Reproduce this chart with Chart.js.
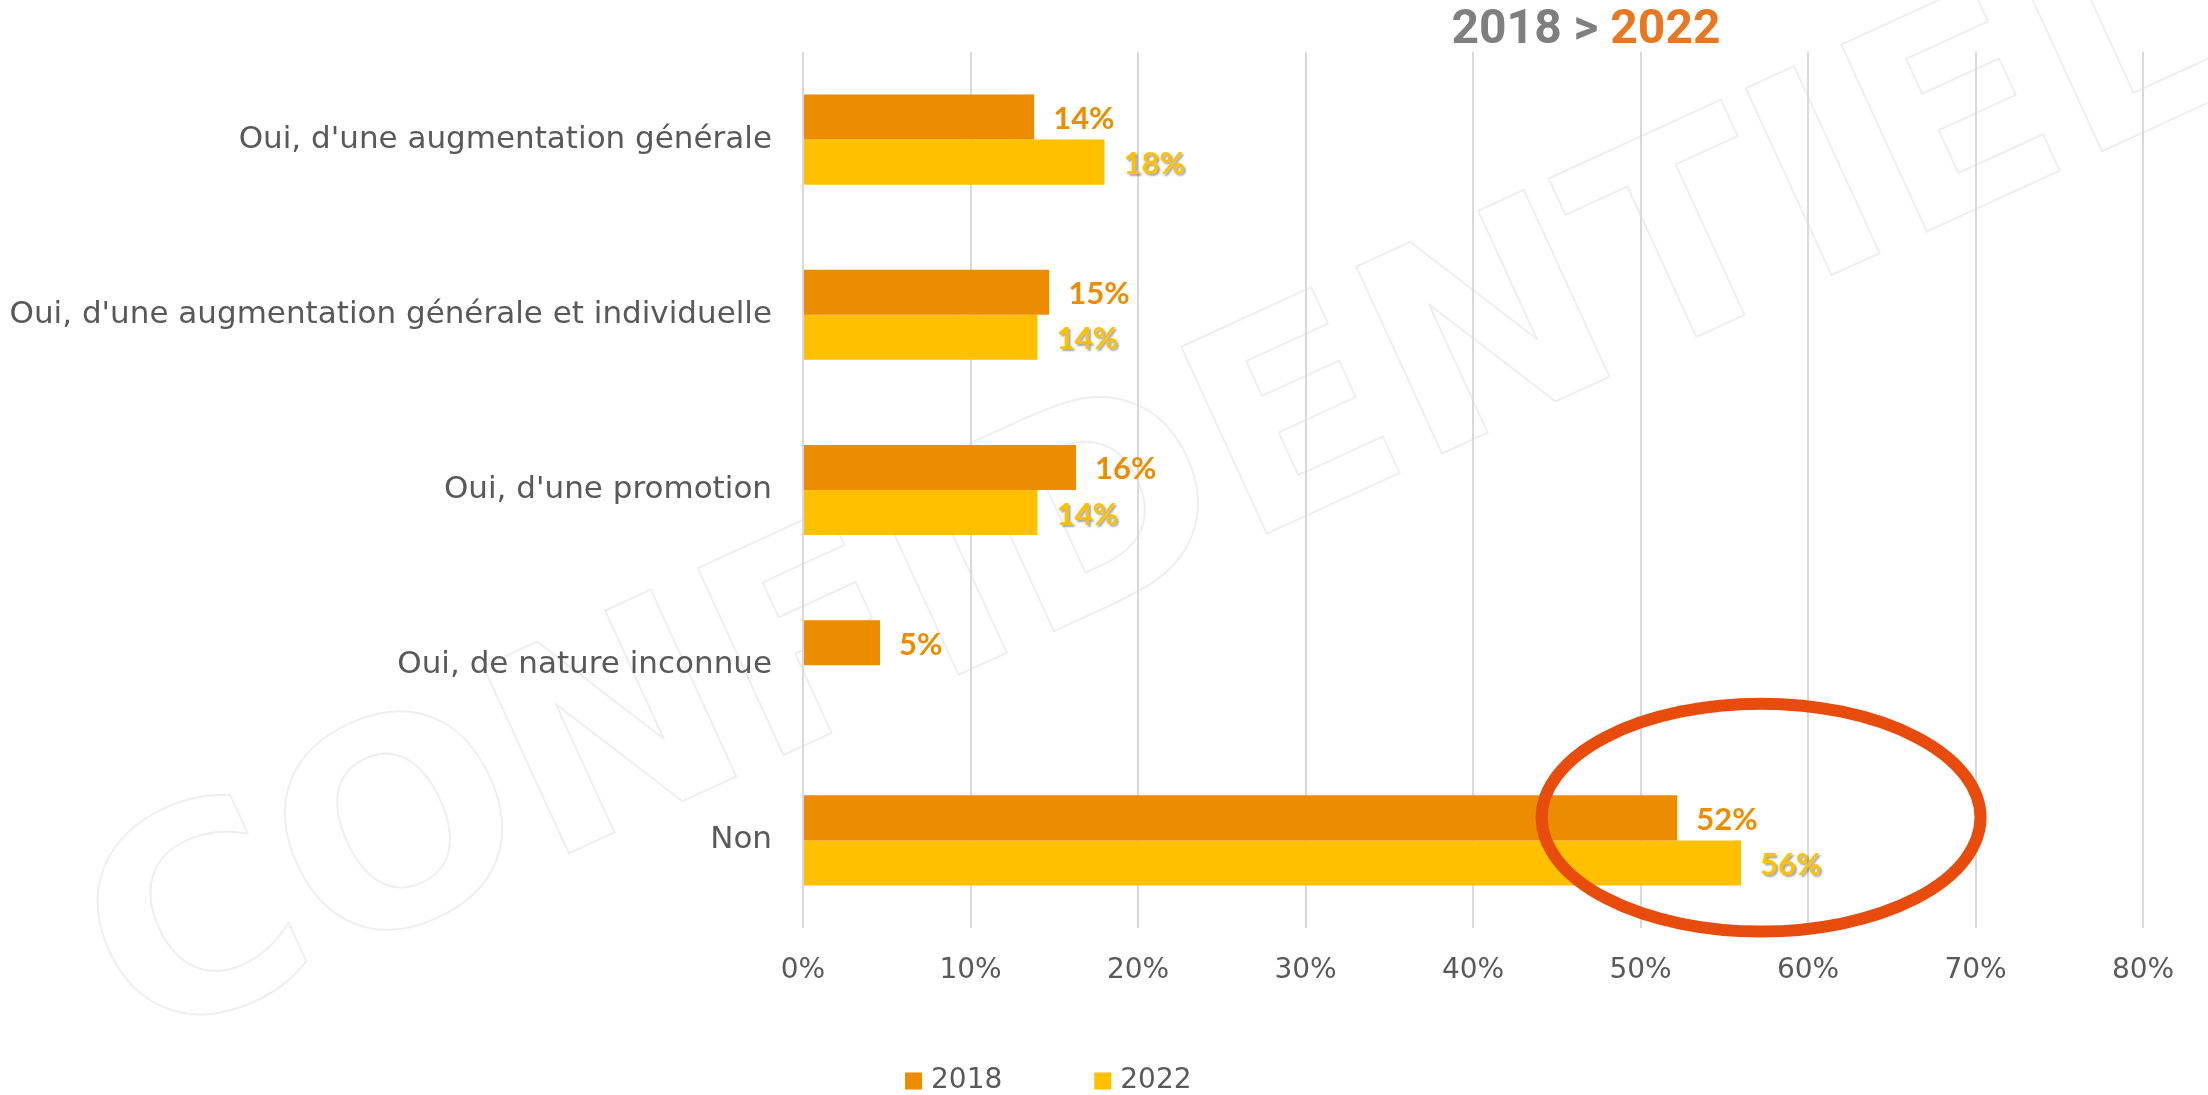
<!DOCTYPE html>
<html><head><meta charset="utf-8">
<script src="https://cdn.jsdelivr.net/npm/chart.js@4/dist/chart.umd.min.js"></script>
<style>html,body{margin:0;padding:0;background:#fff;}</style>
</head><body>
<canvas id="c" width="2208" height="1095" style="width:2208px;height:1095px;display:block"></canvas>
<script>
// ---- data ----
const categories = [
  "Oui, d'une augmentation générale",
  "Oui, d'une augmentation générale et individuelle",
  "Oui, d'une promotion",
  "Oui, de nature inconnue",
  "Non"
];
const seriesNames = ["2018", "2022"];
const values2018 = [13.8, 14.7, 16.3, 4.6, 52.2];
const values2022 = [18.0, 14.0, 14.0, null, 56.0];
const xTickMin = 0, xTickMax = 80, xTickStep = 10;
const titleParts = ["2018 > ", "2022"];
const watermarkText = "CONFIDENTIEL";
// highlight ellipse around "Non" (in axis units)
const highlight = { category: "Non", centerValue: 57.2, halfWidthValue: 13.1, yShift: -0.13, halfHeightCat: 0.65 };

// ---- styles ----
const C2018 = "#EC8C00", C2022 = "#FFC000";
const TXT = "#595959";
const FONT = '"DejaVu Sans"';

const watermarkPlugin = {
  id: 'watermark',
  beforeDraw(chart) {
    const ctx = chart.ctx;
    ctx.save();
    ctx.translate(1160, 502);
    ctx.rotate(-24.6 * Math.PI / 180);
    ctx.font = 'bold 282px ' + FONT;
    ctx.textAlign = 'center';
    ctx.textBaseline = 'middle';
    ctx.strokeStyle = '#eeeeee';
    ctx.lineWidth = 2;
    ctx.lineJoin = 'round';
    ctx.strokeText(watermarkText, 0, 0);
    ctx.restore();
  }
};

const dataLabelPlugin = {
  id: 'dataLabels',
  afterDatasetsDraw(chart) {
    const ctx = chart.ctx;
    chart.data.datasets.forEach((ds, di) => {
      const meta = chart.getDatasetMeta(di);
      meta.data.forEach((el, i) => {
        const v = ds.data[i];
        if (v === null || v === undefined) return;
        ctx.save();
        ctx.font = 'bold 31px Lato';
        ctx.textAlign = 'left';
        ctx.textBaseline = 'middle';
        if (di === 1) {
          ctx.shadowColor = 'rgba(0,0,0,0.35)';
          ctx.shadowOffsetX = 2; ctx.shadowOffsetY = 2; ctx.shadowBlur = 2;
        }
        ctx.fillStyle = ds.backgroundColor;
        ctx.fillText(Math.round(v) + '%', el.x + 19, el.y + 2);
        ctx.restore();
      });
    });
  }
};

const ellipsePlugin = {
  id: 'highlightEllipse',
  afterDatasetsDraw(chart) {
    const xs = chart.scales.x, ys = chart.scales.y;
    const idx = categories.indexOf(highlight.category);
    const cx = xs.getPixelForValue(highlight.centerValue);
    const rx = xs.getPixelForValue(highlight.centerValue + highlight.halfWidthValue) - cx;
    const cy = ys.getPixelForValue(idx + highlight.yShift);
    const ry = ys.getPixelForValue(idx + highlight.halfHeightCat) - ys.getPixelForValue(idx);
    const ctx = chart.ctx;
    ctx.save();
    ctx.beginPath();
    ctx.ellipse(cx, cy, rx, ry, 0, 0, Math.PI * 2);
    ctx.strokeStyle = '#E84C0C';
    ctx.lineWidth = 12;
    ctx.stroke();
    ctx.restore();
  }
};

const titlePlugin = {
  id: 'twoColorTitle',
  afterDraw(chart) {
    const ctx = chart.ctx;
    ctx.save();
    ctx.font = 'bold 48px Roboto';
    ctx.textBaseline = 'middle';
    ctx.textAlign = 'left';
    const w0 = ctx.measureText(titleParts[0]).width;
    const w1 = ctx.measureText(titleParts[1]).width;
    let x = 1586 - (w0 + w1) / 2;
    ctx.fillStyle = '#7F7F7F';
    ctx.fillText(titleParts[0], x, 31);
    ctx.fillStyle = '#E87722';
    ctx.fillText(titleParts[1], x + w0, 31);
    ctx.restore();
  }
};

const legendPlugin = {
  id: 'customLegend',
  afterDraw(chart) {
    const ctx = chart.ctx;
    ctx.save();
    ctx.font = '28px ' + FONT;
    ctx.textBaseline = 'middle';
    ctx.textAlign = 'left';
    let x = 905;
    const y = 1081, box = 17;
    chart.data.datasets.forEach(ds => {
      ctx.fillStyle = ds.backgroundColor;
      ctx.fillRect(x, y - box / 2, box, box);
      ctx.fillStyle = TXT;
      ctx.fillText(ds.label, x + box + 9, y);
      x += box + 9 + ctx.measureText(ds.label).width + 92;
    });
    ctx.restore();
  }
};

new Chart(document.getElementById('c'), {
  type: 'bar',
  data: {
    labels: categories,
    datasets: [
      { label: seriesNames[0], data: values2018, backgroundColor: C2018, borderWidth: 0 },
      { label: seriesNames[1], data: values2022, backgroundColor: C2022, borderWidth: 0 }
    ]
  },
  options: {
    indexAxis: 'y',
    responsive: false,
    animation: false,
    devicePixelRatio: 1,
    categoryPercentage: 0.514,
    barPercentage: 1.0,
    layout: { padding: { top: 52, right: 65, bottom: 107, left: 0 } },
    plugins: { legend: { display: false }, title: { display: false }, tooltip: { enabled: false } },
    scales: {
      x: {
        min: xTickMin, max: xTickMax,
        ticks: { stepSize: xTickStep, callback: v => v + '%', color: TXT, font: { family: FONT, size: 28 }, padding: 26 },
        grid: { color: '#D9D9D9', lineWidth: 2, drawTicks: false },
        border: { display: false },
        afterFit(s) { s.height = 60; }
      },
      y: {
        ticks: { color: TXT, font: { family: FONT, size: 31 }, padding: 31 },
        grid: { display: false, drawTicks: false },
        border: { display: false },
        afterFit(s) { s.width = 803; }
      }
    }
  },
  plugins: [watermarkPlugin, dataLabelPlugin, ellipsePlugin, titlePlugin, legendPlugin]
});
</script>
</body></html>
